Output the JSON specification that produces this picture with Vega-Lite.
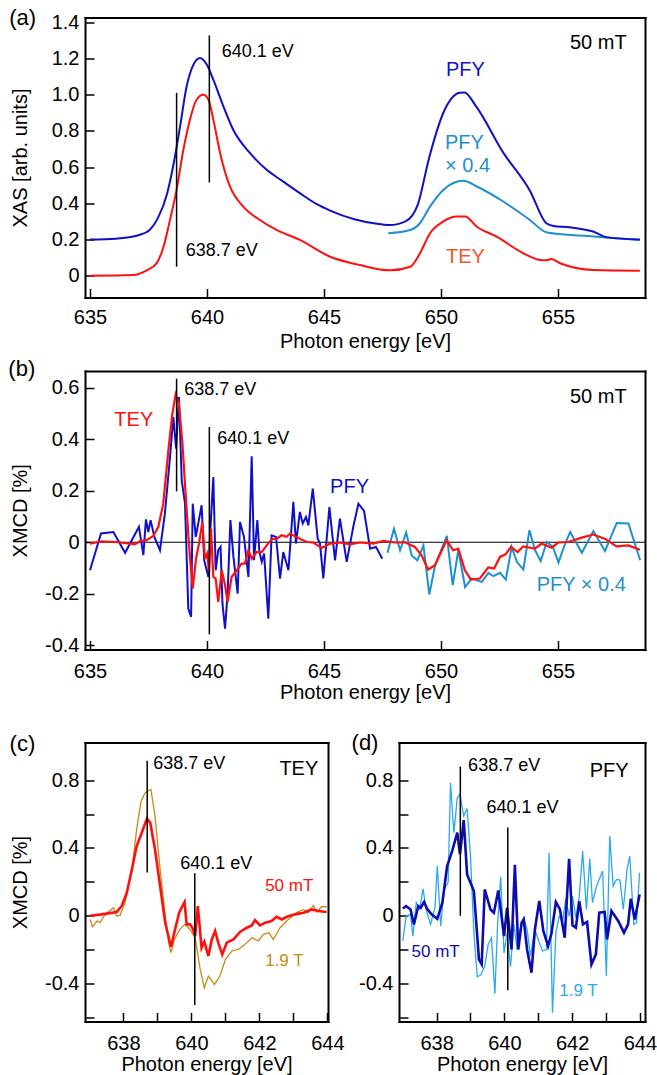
{
"$schema": "https://vega.github.io/schema/vega-lite/v6.json",
"background": "white",
"padding": {"left": 8, "top": 6.5, "right": 12, "bottom": 12},
"config": {
  "font": "Liberation Sans",
  "view": {"stroke": null},
  "axis": {"domain": true, "domainColor": "black", "domainWidth": 2, "domainCap": "square", "grid": false, "tickColor": "black", "tickWidth": 1.5, "tickSize": -9, "labelFont": "Liberation Sans", "labelFontSize": 20, "labelColor": "black", "labelFlush": false, "labelOverlap": false, "titleFont": "Liberation Sans", "titleFontSize": 20, "titleFontWeight": "normal", "titleColor": "black"},
  "axisX": {"labelPadding": 21, "titlePadding": 1},
  "axisY": {"labelPadding": 15},
  "axisLeft": {"titleX": -55}
},
"datasets": {
  "aPFY": [{"E":635.0,"v":0.2},{"E":636.1,"v":0.205},{"E":637.1,"v":0.225},{"E":637.55,"v":0.253},{"E":637.9,"v":0.318},{"E":638.3,"v":0.456},{"E":638.55,"v":0.603},{"E":638.85,"v":0.825},{"E":639.13,"v":1.046},{"E":639.42,"v":1.166},{"E":639.7,"v":1.203},{"E":639.99,"v":1.166},{"E":640.27,"v":1.083},{"E":640.7,"v":0.935},{"E":641.12,"v":0.806},{"E":641.84,"v":0.677},{"E":642.55,"v":0.585},{"E":643.26,"v":0.52},{"E":643.97,"v":0.456},{"E":644.69,"v":0.395},{"E":645.26,"v":0.36},{"E":646.3,"v":0.312},{"E":647.2,"v":0.288},{"E":647.8,"v":0.28},{"E":648.5,"v":0.302},{"E":649.0,"v":0.39},{"E":649.5,"v":0.655},{"E":650.1,"v":0.9},{"E":650.8,"v":1.01},{"E":651.0,"v":1.012},{"E":651.5,"v":0.935},{"E":652.66,"v":0.68},{"E":653.8,"v":0.47},{"E":654.5,"v":0.29},{"E":654.8,"v":0.275},{"E":655.5,"v":0.268},{"E":656.5,"v":0.244},{"E":657.1,"v":0.212},{"E":658.5,"v":0.2}],
  "aTEY": [{"E":635.0,"v":0.0},{"E":636.85,"v":0.004},{"E":637.42,"v":0.03},{"E":637.85,"v":0.07},{"E":638.14,"v":0.16},{"E":638.42,"v":0.31},{"E":638.7,"v":0.474},{"E":638.99,"v":0.696},{"E":639.27,"v":0.862},{"E":639.56,"v":0.973},{"E":639.84,"v":1.0},{"E":640.06,"v":0.973},{"E":640.27,"v":0.862},{"E":640.56,"v":0.677},{"E":640.98,"v":0.493},{"E":641.55,"v":0.382},{"E":642.26,"v":0.308},{"E":642.97,"v":0.253},{"E":643.97,"v":0.198},{"E":645.26,"v":0.105},{"E":646.54,"v":0.059},{"E":647.82,"v":0.03},{"E":648.68,"v":0.05},{"E":649.1,"v":0.124},{"E":649.53,"v":0.235},{"E":650.1,"v":0.3},{"E":650.67,"v":0.327},{"E":651.03,"v":0.327},{"E":651.53,"v":0.271},{"E":652.38,"v":0.216},{"E":653.52,"v":0.124},{"E":654.23,"v":0.087},{"E":654.5,"v":0.085},{"E":654.7,"v":0.092},{"E":655.09,"v":0.069},{"E":656.5,"v":0.032},{"E":658.5,"v":0.028}],
  "aPFY04": [{"E":647.75,"v":0.235},{"E":648.68,"v":0.253},{"E":649.1,"v":0.29},{"E":649.53,"v":0.382},{"E":650.1,"v":0.474},{"E":650.95,"v":0.524},{"E":651.53,"v":0.493},{"E":652.66,"v":0.41},{"E":653.8,"v":0.308},{"E":654.5,"v":0.24},{"E":655.2,"v":0.229},{"E":656.65,"v":0.216},{"E":658.5,"v":0.197}],
  "bPFY": [{"E":635.0,"v":-0.109},{"E":635.47,"v":0.034},{"E":636.0,"v":0.04},{"E":636.5,"v":-0.041},{"E":637.09,"v":0.06},{"E":637.28,"v":-0.05},{"E":637.39,"v":0.089},{"E":637.49,"v":0.04},{"E":637.59,"v":0.086},{"E":637.75,"v":0.021},{"E":637.99,"v":-0.031},{"E":638.2,"v":0.111},{"E":638.42,"v":0.332},{"E":638.56,"v":0.487},{"E":638.68,"v":0.364},{"E":638.8,"v":0.565},{"E":638.92,"v":0.241},{"E":639.06,"v":0.15},{"E":639.2,"v":-0.258},{"E":639.32,"v":-0.29},{"E":639.39,"v":0.15},{"E":639.52,"v":0.021},{"E":639.77,"v":0.144},{"E":639.88,"v":-0.07},{"E":640.06,"v":-0.135},{"E":640.15,"v":0.06},{"E":640.27,"v":0.254},{"E":640.37,"v":-0.109},{"E":640.48,"v":-0.031},{"E":640.58,"v":-0.018},{"E":640.66,"v":-0.238},{"E":640.77,"v":-0.336},{"E":640.88,"v":-0.2},{"E":641.0,"v":0.086},{"E":641.13,"v":-0.057},{"E":641.31,"v":-0.2},{"E":641.41,"v":0.079},{"E":641.58,"v":0.021},{"E":641.77,"v":-0.135},{"E":641.91,"v":0.334},{"E":642.01,"v":-0.07},{"E":642.15,"v":0.086},{"E":642.24,"v":-0.038},{"E":642.34,"v":-0.076},{"E":642.44,"v":-0.044},{"E":642.62,"v":-0.297},{"E":642.76,"v":0.027},{"E":642.95,"v":0.021},{"E":643.12,"v":-0.141},{"E":643.26,"v":-0.038},{"E":643.48,"v":-0.109},{"E":643.69,"v":0.157},{"E":643.8,"v":-0.005},{"E":643.97,"v":0.118},{"E":644.09,"v":0.073},{"E":644.23,"v":0.098},{"E":644.33,"v":0.066},{"E":644.52,"v":0.209},{"E":644.73,"v":0.014},{"E":644.83,"v":-0.005},{"E":644.97,"v":-0.141},{"E":645.23,"v":0.137},{"E":645.47,"v":-0.07},{"E":645.68,"v":0.092},{"E":645.97,"v":-0.076},{"E":646.25,"v":0.06},{"E":646.47,"v":0.15},{"E":646.71,"v":0.122},{"E":646.97,"v":-0.025},{"E":647.22,"v":-0.018},{"E":647.49,"v":-0.064}],
  "bTEY": [{"E":635.0,"v":-0.005},{"E":635.5,"v":0.004},{"E":636.21,"v":0.0},{"E":636.92,"v":-0.008},{"E":637.14,"v":0.005},{"E":637.42,"v":0.008},{"E":637.71,"v":0.025},{"E":637.92,"v":0.06},{"E":638.13,"v":0.15},{"E":638.35,"v":0.358},{"E":638.52,"v":0.5},{"E":638.66,"v":0.575},{"E":638.8,"v":0.539},{"E":638.95,"v":0.384},{"E":639.13,"v":0.124},{"E":639.27,"v":-0.057},{"E":639.39,"v":-0.18},{"E":639.53,"v":-0.064},{"E":639.67,"v":0.001},{"E":639.8,"v":0.079},{"E":639.91,"v":-0.064},{"E":640.01,"v":-0.044},{"E":640.09,"v":-0.115},{"E":640.17,"v":0.053},{"E":640.27,"v":-0.135},{"E":640.37,"v":-0.141},{"E":640.48,"v":-0.232},{"E":640.63,"v":-0.109},{"E":640.77,"v":-0.167},{"E":640.88,"v":-0.232},{"E":641.05,"v":-0.135},{"E":641.27,"v":-0.109},{"E":641.48,"v":-0.083},{"E":641.62,"v":-0.083},{"E":641.77,"v":-0.031},{"E":641.91,"v":-0.064},{"E":642.12,"v":-0.038},{"E":642.34,"v":-0.038},{"E":642.55,"v":-0.012},{"E":642.76,"v":0.012},{"E":642.98,"v":0.014},{"E":643.19,"v":0.027},{"E":643.4,"v":0.021},{"E":643.55,"v":0.034},{"E":643.76,"v":0.023},{"E":643.97,"v":0.014},{"E":644.26,"v":0.001},{"E":644.54,"v":-0.001},{"E":644.9,"v":-0.022},{"E":645.26,"v":-0.005},{"E":645.68,"v":-0.001},{"E":646.11,"v":-0.008},{"E":646.54,"v":-0.001},{"E":647.11,"v":-0.005},{"E":647.54,"v":0.005},{"E":648.03,"v":-0.001},{"E":648.46,"v":0.0},{"E":648.88,"v":-0.018},{"E":649.17,"v":-0.051},{"E":649.45,"v":-0.106},{"E":649.74,"v":-0.089},{"E":650.24,"v":0.008},{"E":650.52,"v":-0.031},{"E":650.74,"v":-0.025},{"E":651.02,"v":-0.109},{"E":651.28,"v":-0.145},{"E":651.66,"v":-0.141},{"E":652.02,"v":-0.098},{"E":652.27,"v":-0.102},{"E":652.52,"v":-0.057},{"E":652.76,"v":-0.047},{"E":652.99,"v":-0.018},{"E":653.27,"v":-0.038},{"E":653.51,"v":-0.016},{"E":654.01,"v":-0.025},{"E":654.3,"v":-0.005},{"E":654.72,"v":-0.021},{"E":655.01,"v":-0.001},{"E":655.44,"v":0.001},{"E":656.01,"v":0.018},{"E":656.51,"v":0.03},{"E":657.0,"v":0.014},{"E":657.5,"v":-0.016},{"E":658.0,"v":-0.012},{"E":658.5,"v":-0.029}],
  "bPFY04": [{"E":647.71,"v":-0.041},{"E":647.99,"v":0.053},{"E":648.25,"v":-0.031},{"E":648.51,"v":0.038},{"E":648.75,"v":-0.051},{"E":648.99,"v":-0.07},{"E":649.25,"v":-0.012},{"E":649.5,"v":-0.203},{"E":649.75,"v":-0.089},{"E":650.25,"v":0.025},{"E":650.5,"v":-0.167},{"E":650.74,"v":-0.031},{"E":651.03,"v":-0.174},{"E":651.31,"v":-0.141},{"E":651.74,"v":-0.154},{"E":652.03,"v":-0.119},{"E":652.24,"v":-0.132},{"E":652.52,"v":-0.119},{"E":652.77,"v":-0.145},{"E":653.02,"v":-0.018},{"E":653.24,"v":-0.076},{"E":653.52,"v":-0.106},{"E":653.78,"v":0.047},{"E":654.02,"v":-0.031},{"E":654.26,"v":-0.073},{"E":654.52,"v":0.001},{"E":654.78,"v":-0.018},{"E":655.02,"v":-0.079},{"E":655.26,"v":-0.016},{"E":655.52,"v":0.04},{"E":655.76,"v":0.001},{"E":656.02,"v":-0.041},{"E":656.51,"v":0.044},{"E":657.01,"v":-0.034},{"E":657.51,"v":0.075},{"E":658.01,"v":0.073},{"E":658.51,"v":-0.07}],
  "cTEY50": [{"E":637.02,"v":0.0},{"E":637.36,"v":0.008},{"E":637.8,"v":0.022},{"E":637.95,"v":0.057},{"E":638.1,"v":0.136},{"E":638.25,"v":0.273},{"E":638.39,"v":0.411},{"E":638.54,"v":0.49},{"E":638.69,"v":0.572},{"E":638.79,"v":0.549},{"E":638.93,"v":0.391},{"E":639.08,"v":0.175},{"E":639.23,"v":-0.041},{"E":639.4,"v":-0.183},{"E":639.52,"v":-0.081},{"E":639.64,"v":0.018},{"E":639.8,"v":0.081},{"E":639.86,"v":-0.051},{"E":639.96,"v":-0.051},{"E":640.03,"v":-0.071},{"E":640.11,"v":-0.12},{"E":640.19,"v":0.057},{"E":640.3,"v":-0.189},{"E":640.38,"v":-0.153},{"E":640.5,"v":-0.238},{"E":640.6,"v":-0.14},{"E":640.7,"v":-0.09},{"E":640.79,"v":-0.159},{"E":640.91,"v":-0.228},{"E":641.04,"v":-0.159},{"E":641.24,"v":-0.14},{"E":641.43,"v":-0.096},{"E":641.63,"v":-0.071},{"E":641.78,"v":-0.057},{"E":641.87,"v":-0.026},{"E":642.02,"v":-0.057},{"E":642.17,"v":-0.041},{"E":642.36,"v":-0.031},{"E":642.51,"v":-0.006},{"E":642.66,"v":-0.022},{"E":642.81,"v":-0.006},{"E":643.05,"v":0.008},{"E":643.3,"v":0.018},{"E":643.54,"v":0.037},{"E":643.74,"v":0.028},{"E":643.98,"v":0.022}],
  "cTEY19": [{"E":637.02,"v":-0.022},{"E":637.09,"v":-0.065},{"E":637.22,"v":-0.031},{"E":637.31,"v":-0.041},{"E":637.46,"v":0.008},{"E":637.71,"v":0.047},{"E":637.8,"v":-0.002},{"E":637.9,"v":0.002},{"E":638.05,"v":0.077},{"E":638.25,"v":0.273},{"E":638.39,"v":0.509},{"E":638.52,"v":0.676},{"E":638.64,"v":0.726},{"E":638.81,"v":0.745},{"E":638.93,"v":0.588},{"E":639.08,"v":0.273},{"E":639.23,"v":-0.002},{"E":639.33,"v":-0.159},{"E":639.4,"v":-0.218},{"E":639.5,"v":-0.14},{"E":639.67,"v":-0.077},{"E":639.81,"v":-0.051},{"E":639.96,"v":-0.081},{"E":640.11,"v":-0.13},{"E":640.26,"v":-0.317},{"E":640.38,"v":-0.425},{"E":640.5,"v":-0.356},{"E":640.68,"v":-0.405},{"E":640.84,"v":-0.356},{"E":641.0,"v":-0.258},{"E":641.19,"v":-0.208},{"E":641.38,"v":-0.199},{"E":641.58,"v":-0.169},{"E":641.78,"v":-0.13},{"E":641.97,"v":-0.149},{"E":642.12,"v":-0.11},{"E":642.28,"v":-0.1},{"E":642.41,"v":-0.14},{"E":642.61,"v":-0.071},{"E":642.85,"v":-0.022},{"E":643.1,"v":0.018},{"E":643.3,"v":0.037},{"E":643.44,"v":0.018},{"E":643.59,"v":0.061},{"E":643.69,"v":0.022},{"E":643.83,"v":0.053},{"E":643.98,"v":0.053}],
  "dPFY50": [{"E":637.0,"v":0.043},{"E":637.1,"v":0.057},{"E":637.23,"v":0.037},{"E":637.33,"v":-0.051},{"E":637.46,"v":0.057},{"E":637.53,"v":0.047},{"E":637.63,"v":0.081},{"E":637.72,"v":0.041},{"E":637.85,"v":0.008},{"E":638.02,"v":-0.018},{"E":638.17,"v":0.077},{"E":638.31,"v":0.293},{"E":638.46,"v":0.382},{"E":638.61,"v":0.49},{"E":638.69,"v":0.362},{"E":638.8,"v":0.564},{"E":638.9,"v":0.244},{"E":639.1,"v":0.146},{"E":639.25,"v":-0.258},{"E":639.33,"v":-0.287},{"E":639.42,"v":0.155},{"E":639.59,"v":0.037},{"E":639.69,"v":0.018},{"E":639.82,"v":0.149},{"E":639.99,"v":-0.12},{"E":640.08,"v":0.047},{"E":640.21,"v":-0.199},{"E":640.31,"v":0.3},{"E":640.41,"v":-0.199},{"E":640.51,"v":-0.041},{"E":640.57,"v":-0.022},{"E":640.67,"v":-0.199},{"E":640.8,"v":-0.336},{"E":640.9,"v":-0.081},{"E":641.03,"v":0.087},{"E":641.15,"v":-0.09},{"E":641.29,"v":-0.179},{"E":641.39,"v":-0.104},{"E":641.52,"v":0.081},{"E":641.64,"v":0.037},{"E":641.78,"v":-0.13},{"E":641.91,"v":0.336},{"E":642.01,"v":-0.057},{"E":642.11,"v":-0.071},{"E":642.21,"v":0.085},{"E":642.32,"v":-0.051},{"E":642.44,"v":-0.037},{"E":642.57,"v":-0.287},{"E":642.7,"v":-0.228},{"E":642.8,"v":0.018},{"E":642.96,"v":0.022},{"E":643.03,"v":-0.14},{"E":643.16,"v":0.028},{"E":643.36,"v":-0.031},{"E":643.53,"v":-0.1},{"E":643.65,"v":-0.051},{"E":643.73,"v":0.1},{"E":643.85,"v":-0.022},{"E":643.99,"v":0.126}],
  "dPFY19": [{"E":637.0,"v":-0.149},{"E":637.1,"v":-0.002},{"E":637.23,"v":0.008},{"E":637.3,"v":-0.12},{"E":637.4,"v":0.077},{"E":637.5,"v":0.041},{"E":637.6,"v":0.159},{"E":637.69,"v":0.037},{"E":637.82,"v":-0.051},{"E":637.95,"v":0.047},{"E":638.02,"v":0.293},{"E":638.12,"v":-0.061},{"E":638.22,"v":0.155},{"E":638.34,"v":0.195},{"E":638.41,"v":0.785},{"E":638.51,"v":0.49},{"E":638.61,"v":0.696},{"E":638.69,"v":0.716},{"E":638.8,"v":0.588},{"E":638.9,"v":0.633},{"E":639.0,"v":0.35},{"E":639.1,"v":-0.1},{"E":639.2,"v":-0.36},{"E":639.3,"v":-0.35},{"E":639.42,"v":-0.3},{"E":639.52,"v":-0.17},{"E":639.62,"v":-0.13},{"E":639.72,"v":-0.46},{"E":639.8,"v":-0.05},{"E":639.89,"v":0.23},{"E":639.99,"v":-0.22},{"E":640.08,"v":-0.1},{"E":640.18,"v":-0.3},{"E":640.28,"v":-0.05},{"E":640.38,"v":-0.2},{"E":640.46,"v":-0.081},{"E":640.57,"v":-0.012},{"E":640.67,"v":-0.081},{"E":640.77,"v":-0.238},{"E":640.9,"v":-0.081},{"E":641.03,"v":-0.159},{"E":641.13,"v":-0.208},{"E":641.24,"v":-0.2},{"E":641.32,"v":0.372},{"E":641.42,"v":-0.572},{"E":641.52,"v":-0.1},{"E":641.62,"v":-0.002},{"E":641.72,"v":-0.031},{"E":641.81,"v":0.1},{"E":641.91,"v":-0.002},{"E":642.01,"v":0.116},{"E":642.11,"v":-0.012},{"E":642.21,"v":0.116},{"E":642.31,"v":0.382},{"E":642.42,"v":0.037},{"E":642.52,"v":0.336},{"E":642.6,"v":0.077},{"E":642.72,"v":0.175},{"E":642.9,"v":0.264},{"E":643.01,"v":-0.356},{"E":643.11,"v":0.47},{"E":643.21,"v":0.175},{"E":643.31,"v":0.214},{"E":643.41,"v":0.21},{"E":643.51,"v":0.037},{"E":643.62,"v":0.273},{"E":643.7,"v":0.352},{"E":643.82,"v":-0.051},{"E":643.9,"v":-0.041},{"E":643.99,"v":0.254}]
},
"spacing": 73.5,
"bounds": "flush",
"vconcat": [
  {
    "width": 560, "height": 280,
    "resolve": {"axis": {"x": "independent", "y": "independent"}},
    "encoding": {
      "x": {"field": "E", "type": "quantitative", "scale": {"domain": [634.786, 658.718], "nice": false, "zero": false}, "axis": null},
      "y": {"field": "v", "type": "quantitative", "scale": {"domain": [-0.12, 1.426], "nice": false, "zero": false}, "axis": null}
    },
    "layer": [
      {"data": {"values": [{"E": 634.786, "v": -0.12}]}, "mark": {"type": "point", "opacity": 0}, "encoding": {
        "x": {"field": "E", "type": "quantitative", "scale": {"domain": [634.786, 658.718], "nice": false, "zero": false}, "axis": {"orient": "bottom", "values": [635, 640, 645, 650, 655], "format": "d", "title": "Photon energy [eV]", "labelPadding": 19, "titlePadding": 4}},
        "y": {"field": "v", "type": "quantitative", "scale": {"domain": [-0.12, 1.426], "nice": false, "zero": false}, "axis": {"orient": "left", "values": [0, 0.2, 0.4, 0.6, 0.8, 1, 1.2, 1.4], "labelExpr": "datum.value == 0 ? '0' : format(datum.value, '.1f')", "title": "XAS [arb. units]"}}}},
      {"data": {"values": [{"E": 634.786, "v": -0.12}]}, "mark": {"type": "point", "opacity": 0}, "encoding": {
        "x": {"field": "E", "type": "quantitative", "scale": {"domain": [634.786, 658.718], "nice": false, "zero": false}, "axis": {"orient": "top", "labels": false, "ticks": false, "title": null}},
        "y": {"field": "v", "type": "quantitative", "scale": {"domain": [-0.12, 1.426], "nice": false, "zero": false}, "axis": {"orient": "right", "labels": false, "ticks": false, "title": null}}}},
      {"data": {"name": "aTEY"}, "mark": {"type": "line", "color": "#ff1010", "strokeWidth": 2, "interpolate": "monotone"}, "encoding": {}},
      {"data": {"name": "aPFY04"}, "mark": {"type": "line", "color": "#1e90d0", "strokeWidth": 2, "interpolate": "monotone"}, "encoding": {}},
      {"data": {"name": "aPFY"}, "mark": {"type": "line", "color": "#1010c8", "strokeWidth": 2, "interpolate": "monotone"}, "encoding": {}},
      {"data": {"values": [{"E": 638.7, "v": 0.05, "v2": 1.01}, {"E": 640.1, "v": 0.515, "v2": 1.327}]}, "mark": {"type": "rule", "color": "black", "strokeWidth": 1.5}, "encoding": {"y2": {"field": "v2"}}},
      {"data": {"values": [{"E": 640.63, "v": 1.236, "t": "640.1 eV"}, {"E": 639.09, "v": 0.134, "t": "638.7 eV"}]}, "mark": {"type": "text", "align": "left", "baseline": "middle", "fontSize": 18, "color": "black"}, "encoding": {"text": {"field": "t"}}},
      {"data": {"values": [{"E": 655.51, "v": 1.283, "t": "50 mT"}]}, "mark": {"type": "text", "align": "left", "baseline": "middle", "fontSize": 20, "color": "black"}, "encoding": {"text": {"field": "t"}}},
      {"data": {"values": [{"E": 631.55, "v": 1.426, "t": "(a)"}]}, "mark": {"type": "text", "align": "left", "baseline": "middle", "fontSize": 22, "color": "black"}, "encoding": {"text": {"field": "t"}}},
      {"data": {"values": [{"E": 650.21, "v": 1.136, "t": "PFY"}]}, "mark": {"type": "text", "align": "left", "baseline": "middle", "fontSize": 20, "color": "#1010c8"}, "encoding": {"text": {"field": "t"}}},
      {"data": {"values": [{"E": 650.17, "v": 0.735, "t": "PFY"}, {"E": 650.17, "v": 0.608, "t": "× 0.4"}]}, "mark": {"type": "text", "align": "left", "baseline": "middle", "fontSize": 20, "color": "#1e90d0"}, "encoding": {"text": {"field": "t"}}},
      {"data": {"values": [{"E": 650.21, "v": 0.106, "t": "TEY"}]}, "mark": {"type": "text", "align": "left", "baseline": "middle", "fontSize": 20, "color": "#f4581e"}, "encoding": {"text": {"field": "t"}}}
    ]
  },
  {
    "spacing": 92.5,
    "bounds": "flush",
    "vconcat": [
      {
        "width": 560, "height": 278.5,
        "resolve": {"axis": {"x": "independent", "y": "independent"}},
        "encoding": {
          "x": {"field": "E", "type": "quantitative", "scale": {"domain": [634.786, 658.718], "nice": false, "zero": false}, "axis": null},
          "y": {"field": "v", "type": "quantitative", "scale": {"domain": [-0.417, 0.666], "nice": false, "zero": false}, "axis": null}
        },
        "layer": [
          {"data": {"values": [{"E": 634.786, "v": -0.417}]}, "mark": {"type": "point", "opacity": 0}, "encoding": {
            "x": {"field": "E", "type": "quantitative", "scale": {"domain": [634.786, 658.718], "nice": false, "zero": false}, "axis": {"orient": "bottom", "values": [635, 640, 645, 650, 655], "format": "d", "title": "Photon energy [eV]"}},
            "y": {"field": "v", "type": "quantitative", "scale": {"domain": [-0.417, 0.666], "nice": false, "zero": false}, "axis": {"orient": "left", "values": [-0.4, -0.2, 0, 0.2, 0.4, 0.6], "labelExpr": "datum.value == 0 ? '0' : (datum.value < 0 ? '-' : '') + format(abs(datum.value), '.1f')", "title": "XMCD [%]"}}}},
          {"data": {"values": [{"E": 634.786, "v": -0.417}]}, "mark": {"type": "point", "opacity": 0}, "encoding": {
            "x": {"field": "E", "type": "quantitative", "scale": {"domain": [634.786, 658.718], "nice": false, "zero": false}, "axis": {"orient": "top", "labels": false, "ticks": false, "title": null}},
            "y": {"field": "v", "type": "quantitative", "scale": {"domain": [-0.417, 0.666], "nice": false, "zero": false}, "axis": {"orient": "right", "labels": false, "ticks": false, "title": null}}}},
          {"data": {"values": [{"E": 634.786, "E2": 658.718, "v": 0}]}, "mark": {"type": "rule", "color": "black", "strokeWidth": 1.2}, "encoding": {"x2": {"field": "E2"}}},
          {"data": {"name": "bPFY"}, "mark": {"type": "line", "color": "#1010c8", "strokeWidth": 2}, "encoding": {}},
          {"data": {"name": "bPFY04"}, "mark": {"type": "line", "color": "#1e90d0", "strokeWidth": 2}, "encoding": {}},
          {"data": {"name": "bTEY"}, "mark": {"type": "line", "color": "#ff1010", "strokeWidth": 2.2}, "encoding": {}},
          {"data": {"values": [{"E": 638.7, "v": 0.198, "v2": 0.636}, {"E": 640.1, "v": -0.358, "v2": 0.448}]}, "mark": {"type": "rule", "color": "black", "strokeWidth": 1.5}, "encoding": {"y2": {"field": "v2"}}},
          {"data": {"values": [{"E": 639.03, "v": 0.591, "t": "638.7 eV"}, {"E": 640.44, "v": 0.402, "t": "640.1 eV"}]}, "mark": {"type": "text", "align": "left", "baseline": "middle", "fontSize": 18, "color": "black"}, "encoding": {"text": {"field": "t"}}},
          {"data": {"values": [{"E": 655.51, "v": 0.565, "t": "50 mT"}]}, "mark": {"type": "text", "align": "left", "baseline": "middle", "fontSize": 20, "color": "black"}, "encoding": {"text": {"field": "t"}}},
          {"data": {"values": [{"E": 631.51, "v": 0.675, "t": "(b)"}]}, "mark": {"type": "text", "align": "left", "baseline": "middle", "fontSize": 22, "color": "black"}, "encoding": {"text": {"field": "t"}}},
          {"data": {"values": [{"E": 636.04, "v": 0.477, "t": "TEY"}]}, "mark": {"type": "text", "align": "left", "baseline": "middle", "fontSize": 20, "color": "#ff1010"}, "encoding": {"text": {"field": "t"}}},
          {"data": {"values": [{"E": 645.26, "v": 0.215, "t": "PFY"}]}, "mark": {"type": "text", "align": "left", "baseline": "middle", "fontSize": 20, "color": "#1010c8"}, "encoding": {"text": {"field": "t"}}},
          {"data": {"values": [{"E": 654.09, "v": -0.167, "t": "PFY × 0.4"}]}, "mark": {"type": "text", "align": "left", "baseline": "middle", "fontSize": 20, "color": "#1e90d0"}, "encoding": {"text": {"field": "t"}}}
        ]
      },
      {
        "spacing": 71,
        "bounds": "flush",
        "hconcat": [
          {
            "width": 243, "height": 279,
            "resolve": {"axis": {"x": "independent", "y": "independent"}},
            "encoding": {
              "x": {"field": "E", "type": "quantitative", "scale": {"domain": [636.87, 644.02], "nice": false, "zero": false}, "axis": null},
              "y": {"field": "v", "type": "quantitative", "scale": {"domain": [-0.624, 1.022], "nice": false, "zero": false}, "axis": null}
            },
            "layer": [
              {"data": {"values": [{"E": 636.87, "v": -0.624}]}, "mark": {"type": "point", "opacity": 0}, "encoding": {
                "x": {"field": "E", "type": "quantitative", "scale": {"domain": [636.87, 644.02], "nice": false, "zero": false}, "axis": {"orient": "bottom", "values": [638, 639, 640, 641, 642, 643, 644], "labelExpr": "datum.value % 2 == 0 ? format(datum.value, 'd') : ''", "title": "Photon energy [eV]"}},
                "y": {"field": "v", "type": "quantitative", "scale": {"domain": [-0.624, 1.022], "nice": false, "zero": false}, "axis": {"orient": "left", "values": [-0.6, -0.4, -0.2, 0, 0.2, 0.4, 0.6, 0.8], "labelExpr": "abs(round(datum.value * 10)) % 4 != 0 ? '' : datum.value == 0 ? '0' : (datum.value < 0 ? '-' : '') + format(abs(datum.value), '.1f')", "title": "XMCD [%]"}}}},
              {"data": {"values": [{"E": 636.87, "v": -0.624}]}, "mark": {"type": "point", "opacity": 0}, "encoding": {
                "x": {"field": "E", "type": "quantitative", "scale": {"domain": [636.87, 644.02], "nice": false, "zero": false}, "axis": {"orient": "top", "labels": false, "ticks": false, "title": null}},
                "y": {"field": "v", "type": "quantitative", "scale": {"domain": [-0.624, 1.022], "nice": false, "zero": false}, "axis": {"orient": "right", "labels": false, "ticks": false, "title": null}}}},
              {"data": {"name": "cTEY19"}, "mark": {"type": "line", "color": "#c88a10", "strokeWidth": 1.3}, "encoding": {}},
              {"data": {"name": "cTEY50"}, "mark": {"type": "line", "color": "#ff1010", "strokeWidth": 2.6}, "encoding": {}},
              {"data": {"values": [{"E": 638.7, "v": 0.255, "v2": 0.914}, {"E": 640.1, "v": -0.527, "v2": 0.25}]}, "mark": {"type": "rule", "color": "black", "strokeWidth": 1.5}, "encoding": {"y2": {"field": "v2"}}},
              {"data": {"values": [{"E": 638.88, "v": 0.895, "t": "638.7 eV"}, {"E": 639.67, "v": 0.305, "t": "640.1 eV"}]}, "mark": {"type": "text", "align": "left", "baseline": "middle", "fontSize": 18, "color": "black"}, "encoding": {"text": {"field": "t"}}},
              {"data": {"values": [{"E": 642.59, "v": 0.865, "t": "TEY"}]}, "mark": {"type": "text", "align": "left", "baseline": "middle", "fontSize": 20, "color": "black"}, "encoding": {"text": {"field": "t"}}},
              {"data": {"values": [{"E": 634.65, "v": 1.013, "t": "(c)"}]}, "mark": {"type": "text", "align": "left", "baseline": "middle", "fontSize": 22, "color": "black"}, "encoding": {"text": {"field": "t"}}},
              {"data": {"values": [{"E": 642.17, "v": 0.177, "t": "50 mT"}]}, "mark": {"type": "text", "align": "left", "baseline": "middle", "fontSize": 17, "color": "#ff1010"}, "encoding": {"text": {"field": "t"}}},
              {"data": {"values": [{"E": 642.17, "v": -0.265, "t": "1.9 T"}]}, "mark": {"type": "text", "align": "left", "baseline": "middle", "fontSize": 17, "color": "#c88a10"}, "encoding": {"text": {"field": "t"}}}
            ]
          },
          {
            "width": 246, "height": 279,
            "resolve": {"axis": {"x": "independent", "y": "independent"}},
            "encoding": {
              "x": {"field": "E", "type": "quantitative", "scale": {"domain": [636.89, 644.15], "nice": false, "zero": false}, "axis": null},
              "y": {"field": "v", "type": "quantitative", "scale": {"domain": [-0.624, 1.022], "nice": false, "zero": false}, "axis": null}
            },
            "layer": [
              {"data": {"values": [{"E": 636.89, "v": -0.624}]}, "mark": {"type": "point", "opacity": 0}, "encoding": {
                "x": {"field": "E", "type": "quantitative", "scale": {"domain": [636.89, 644.15], "nice": false, "zero": false}, "axis": {"orient": "bottom", "values": [638, 639, 640, 641, 642, 643, 644], "labelExpr": "datum.value % 2 == 0 ? format(datum.value, 'd') : ''", "title": "Photon energy [eV]"}},
                "y": {"field": "v", "type": "quantitative", "scale": {"domain": [-0.624, 1.022], "nice": false, "zero": false}, "axis": {"orient": "left", "values": [-0.6, -0.4, -0.2, 0, 0.2, 0.4, 0.6, 0.8], "labelExpr": "abs(round(datum.value * 10)) % 4 != 0 ? '' : datum.value == 0 ? '0' : (datum.value < 0 ? '-' : '') + format(abs(datum.value), '.1f')", "title": null}}}},
              {"data": {"values": [{"E": 636.89, "v": -0.624}]}, "mark": {"type": "point", "opacity": 0}, "encoding": {
                "x": {"field": "E", "type": "quantitative", "scale": {"domain": [636.89, 644.15], "nice": false, "zero": false}, "axis": {"orient": "top", "labels": false, "ticks": false, "title": null}},
                "y": {"field": "v", "type": "quantitative", "scale": {"domain": [-0.624, 1.022], "nice": false, "zero": false}, "axis": {"orient": "right", "labels": false, "ticks": false, "title": null}}}},
              {"data": {"name": "dPFY19"}, "mark": {"type": "line", "color": "#28aaf0", "strokeWidth": 1.3}, "encoding": {}},
              {"data": {"name": "dPFY50"}, "mark": {"type": "line", "color": "#0c0cb0", "strokeWidth": 2.6}, "encoding": {}},
              {"data": {"values": [{"E": 638.7, "v": 0.0, "v2": 0.88}, {"E": 640.1, "v": -0.44, "v2": 0.52}]}, "mark": {"type": "rule", "color": "black", "strokeWidth": 1.5}, "encoding": {"y2": {"field": "v2"}}},
              {"data": {"values": [{"E": 638.93, "v": 0.885, "t": "638.7 eV"}, {"E": 639.47, "v": 0.635, "t": "640.1 eV"}]}, "mark": {"type": "text", "align": "left", "baseline": "middle", "fontSize": 18, "color": "black"}, "encoding": {"text": {"field": "t"}}},
              {"data": {"values": [{"E": 642.52, "v": 0.855, "t": "PFY"}]}, "mark": {"type": "text", "align": "left", "baseline": "middle", "fontSize": 20, "color": "black"}, "encoding": {"text": {"field": "t"}}},
              {"data": {"values": [{"E": 635.49, "v": 1.019, "t": "(d)"}]}, "mark": {"type": "text", "align": "left", "baseline": "middle", "fontSize": 22, "color": "black"}, "encoding": {"text": {"field": "t"}}},
              {"data": {"values": [{"E": 637.26, "v": -0.216, "t": "50 mT"}]}, "mark": {"type": "text", "align": "left", "baseline": "middle", "fontSize": 17, "color": "#0c0cb0"}, "encoding": {"text": {"field": "t"}}},
              {"data": {"values": [{"E": 641.62, "v": -0.442, "t": "1.9 T"}]}, "mark": {"type": "text", "align": "left", "baseline": "middle", "fontSize": 17, "color": "#28aaf0"}, "encoding": {"text": {"field": "t"}}}
            ]
          }
        ]
      }
    ]
  }
]
}
